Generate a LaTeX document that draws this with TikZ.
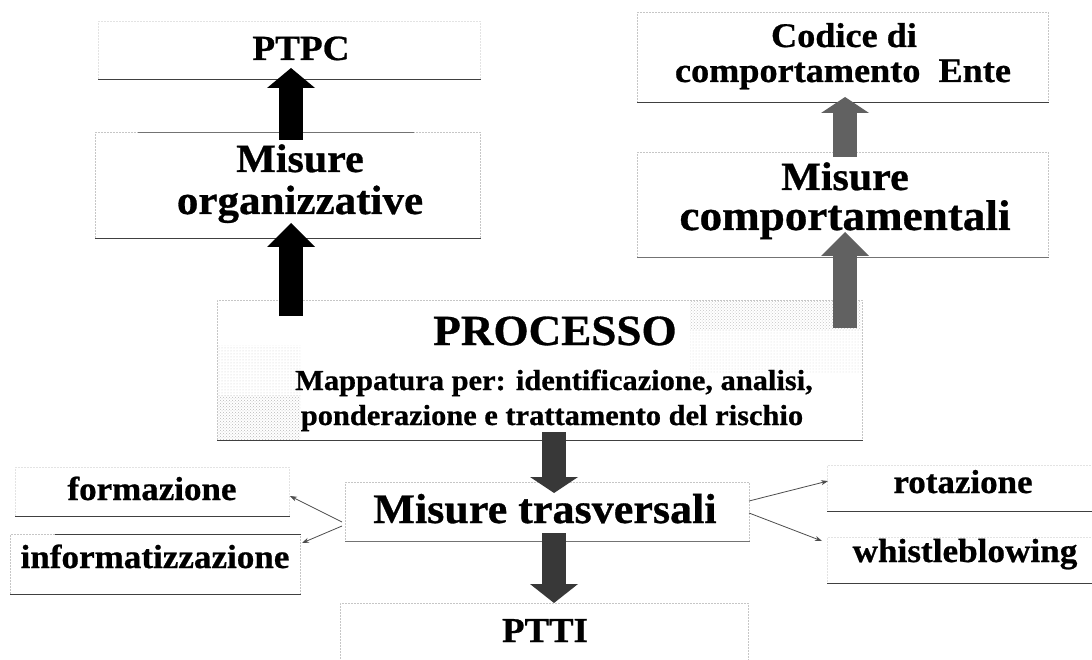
\documentclass[tikz,border=0pt]{standalone}
\usepackage{fontspec}
\newfontfamily\cf[FakeStretch=1.05, FakeBold=0.7]{Liberation Serif Bold}
\usetikzlibrary{arrows.meta,patterns}
\newcommand{\fsz}[1]{\fontsize{#1}{#1}\selectfont}
\begin{document}
\begin{tikzpicture}[x=1pt,y=-1pt,
  lbl/.style={inner sep=0pt, anchor=base, font=\cf\fsz{#1}},
  boxframe/.style={draw=gray!45, line width=0.5pt, densely dotted, inner sep=0pt, anchor=north west},
  faintframe/.style={boxframe, draw=gray!22},
  darkrule/.style={draw=black!75, line width=0.9pt},
  blockarrow/.style={line width=24pt, -{Triangle[width=48pt,length=#1,line width=0pt]}},
  thinarrow/.style={draw=black!70, line width=0.8pt, -{Stealth[length=7pt,width=5pt]}}]
\useasboundingbox (0,0) rectangle (1092,660);
\clip (0,0) rectangle (1092,660);
\fill[white] (0,0) rectangle (1092,660);

% boxes
\node[faintframe, minimum width=382pt, minimum height=58pt] (b1) at (98,21) {};
\node[boxframe, minimum width=385pt, minimum height=106pt] (b2) at (95,132) {};
\node[boxframe, minimum width=411pt, minimum height=90pt] (b3) at (637,12) {};
\node[boxframe, minimum width=411pt, minimum height=105pt] (b4) at (637,152) {};
\node[boxframe, minimum width=645pt, minimum height=140pt] (b5) at (217,300) {};
\node[boxframe, minimum width=404pt, minimum height=59pt] (b6) at (345,482) {};
\node[faintframe, minimum width=274pt, minimum height=49pt] (b7) at (15,467) {};
\node[boxframe, minimum width=290pt, minimum height=60pt] (b8) at (10,534) {};
\node[faintframe, minimum width=270pt, minimum height=46pt] (b9) at (827,465) {};
\node[faintframe, minimum width=270pt, minimum height=46pt] (b10) at (827,537) {};
\node[boxframe, minimum width=408pt, minimum height=80pt] (b11) at (340,603) {};

% halftone shading inside PROCESSO box
\fill[pattern=dots, pattern color=gray!40] (218,345) rectangle (300,395);
\fill[pattern=crosshatch dots, pattern color=gray!55] (218,395) rectangle (300,439);
\fill[pattern=crosshatch dots, pattern color=gray!45] (690,301) rectangle (861,330);
\fill[pattern=dots, pattern color=gray!30] (690,330) rectangle (861,372);

% darker edges
\draw[darkrule] (b1.south west) -- (b1.south east);
\draw[darkrule] (b2.south west) -- (b2.south east);
\draw[darkrule, draw=black!55] ([xshift=43pt]b2.north west) -- ([xshift=-67pt]b2.north east);
\draw[darkrule] (b3.south west) -- (b3.south east);
\draw[darkrule, draw=black!55] (b4.south west) -- (b4.south east);
\draw[darkrule] (b5.south west) -- (b5.south east);
\draw[darkrule, draw=black!55] (b6.south west) -- (b6.south east);
\draw[darkrule] (b7.south west) -- (b7.south east);
\draw[darkrule] ([xshift=45pt]b8.north west) -- (b8.north east);
\draw[darkrule] (b8.south west) -- (b8.south east);
\draw[darkrule] (b9.south west) -- (b9.south east);
\draw[darkrule] (b10.south west) -- (b10.south east);

% texts
\node[lbl=35.4] (tptpc) at (301,60) {PTPC};
\node[lbl=40] (tmis1) at (300,172) {Misure};
\node[lbl=41] (torg) at (300,214) {organizzative};
\node[lbl=34.5] (tcod) at (844,47) {Codice di};
\node[lbl=34.5] (tcomp) at (843,82) {comportamento\ \ Ente};
\node[lbl=40] (tmis2) at (845,190) {Misure};
\node[lbl=43] (tcompm) at (845,230) {comportamentali};
\node[lbl=43] (tproc) at (555,345) {PROCESSO};
\node[lbl=29] (tmap1) at (554,390) {Mappatura per: identificazione, analisi,};
\node[lbl=29] (tmap2) at (552,425) {ponderazione e trattamento del rischio};
\node[lbl=42] (tmt) at (545,523) {Misure trasversali};
\node[lbl=33.3] (tform) at (152,500) {formazione};
\node[lbl=33.4] (tinf) at (155,568) {informatizzazione};
\node[lbl=33.3] (trot) at (963,493) {rotazione};
\node[lbl=33.5] (twhi) at (965,562) {whistleblowing};
\node[lbl=35] (tptti) at (545,642) {PTTI};

% arrow end points
\coordinate (a1s) at (291,140); \coordinate (a1e) at (291,68);
\coordinate (a2s) at (291,316); \coordinate (a2e) at (291,223);
\coordinate (g1s) at (845,157); \coordinate (g1e) at (845,97);
\coordinate (g2s) at (845,328); \coordinate (g2e) at (845,232);
\coordinate (d1s) at (554,432); \coordinate (d1e) at (554,493);
\coordinate (d2s) at (554,533); \coordinate (d2e) at (554,603);
\coordinate (l1s) at (342,522); \coordinate (l1e) at (290,496);
\coordinate (l2s) at (342,526); \coordinate (l2e) at (302,543);
\coordinate (r1s) at (749,501); \coordinate (r1e) at (828,481);
\coordinate (r2s) at (749,513); \coordinate (r2e) at (822,541);

% block arrows
\draw[blockarrow=20pt, black] (a1s) -- (a1e);
\draw[blockarrow=24pt, black] (a2s) -- (a2e);
\draw[blockarrow=16pt, black!62] (g1s) -- (g1e);
\draw[blockarrow=24pt, black!62] (g2s) -- (g2e);
\draw[blockarrow=16pt, black!78] (d1s) -- (d1e);
\draw[blockarrow=19pt, black!78] (d2s) -- (d2e);

% thin arrows
\draw[thinarrow] (l1s) -- (l1e);
\draw[thinarrow] (l2s) -- (l2e);
\draw[thinarrow] (r1s) -- (r1e);
\draw[thinarrow] (r2s) -- (r2e);
\end{tikzpicture}
\end{document}
